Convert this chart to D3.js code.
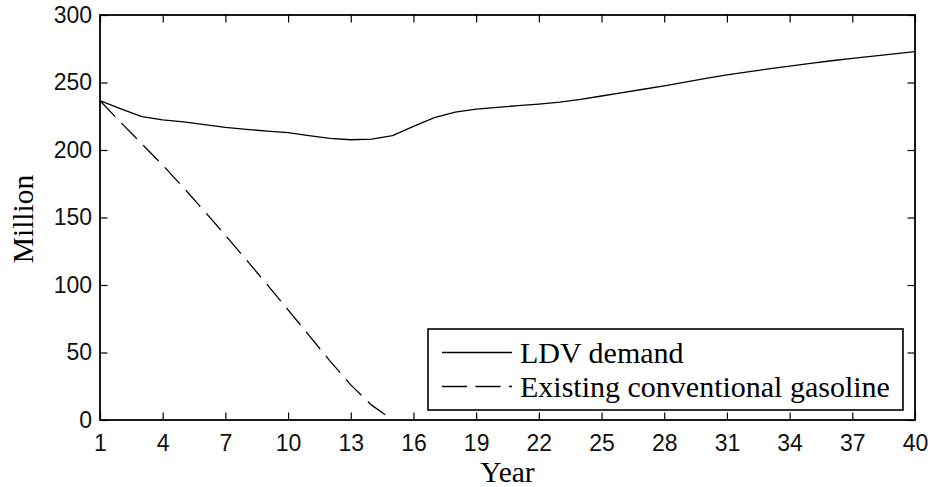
<!DOCTYPE html>
<html>
<head>
<meta charset="utf-8">
<script src="https://cdn.jsdelivr.net/npm/d3@7"></script>
<style>
  html, body { margin: 0; padding: 0; background: #fff; }
  svg { display: block; }
</style>
</head>
<body>
<svg id="chart" width="931" height="487"></svg>
<script>
// ---- data ----
const years = d3.range(1, 41);
const ldvDemand = [236.5, 230.5, 224.7, 222.3, 220.8, 218.8, 216.8, 215.3, 214.0, 212.8,
                   210.6, 208.6, 207.6, 208.0, 210.6, 217.5, 224.0, 228.0, 230.3, 231.6,
                   232.8, 234.0, 235.5, 237.5, 240.0, 242.5, 245.0, 247.5, 250.3, 253.0,
                   255.6, 257.9, 260.1, 262.2, 264.2, 266.1, 267.9, 269.6, 271.2, 272.8];
const gasYears = d3.range(1, 16);
const existingGasoline = [236.5, 220.3, 204.6, 188.8, 172.0, 154.6, 136.8, 118.7, 100.3, 81.6,
                          62.7, 43.8, 26.0, 11.0, 0.0];
const xTicks = [1, 4, 7, 10, 13, 16, 19, 22, 25, 28, 31, 34, 37, 40];
const yTicks = [0, 50, 100, 150, 200, 250, 300];
const seriesNames = ["LDV demand", "Existing conventional gasoline"];
const xLabel = "Year", yLabel = "Million";

// ---- layout ----
const L = 100, R = 915, T = 15, B = 420;
const svg = d3.select("#chart");
const x = d3.scaleLinear().domain([1, 40]).range([L, R]);
const y = d3.scaleLinear().domain([0, 300]).range([B, T]);
const serif = "'Liberation Serif', 'Times New Roman', serif";
const sans = "'Liberation Sans', Arial, Helvetica, sans-serif";

// lines
const line = d3.line().x(d => x(d[0])).y(d => y(d[1]));
svg.append("path")
  .datum(years.map((yr, i) => [yr, ldvDemand[i]]))
  .attr("d", line).attr("fill", "none").attr("stroke", "#000").attr("stroke-width", 1.3);
svg.append("path")
  .datum(gasYears.map((yr, i) => [yr, existingGasoline[i]]))
  .attr("d", line).attr("fill", "none").attr("stroke", "#000").attr("stroke-width", 1.3)
  .attr("stroke-dasharray", "22,9");

// axes
function styleAxis(g) {
  g.select(".domain").remove();
  g.selectAll(".tick line").attr("stroke", "#000").attr("stroke-width", 1.2);
  g.selectAll(".tick text").attr("fill", "#111").style("font-family", sans).style("font-size", "23px");
}
svg.append("g").attr("transform", `translate(0,${B})`)
  .call(d3.axisBottom(x).tickValues(xTicks).tickSize(-7.5).tickSizeOuter(0).tickPadding(14.5).tickFormat(d3.format("d")))
  .call(styleAxis);
svg.append("g").attr("transform", `translate(0,${T})`)
  .call(d3.axisTop(x).tickValues(xTicks).tickSize(-7.5).tickSizeOuter(0).tickFormat(""))
  .call(styleAxis);
svg.append("g").attr("transform", `translate(${L},0)`)
  .call(d3.axisLeft(y).tickValues(yTicks).tickSize(-7.5).tickSizeOuter(0).tickPadding(8).tickFormat(d3.format("d")))
  .call(styleAxis);
svg.append("g").attr("transform", `translate(${R},0)`)
  .call(d3.axisRight(y).tickValues(yTicks).tickSize(-7.5).tickSizeOuter(0).tickFormat(""))
  .call(styleAxis);

// frame
svg.append("rect").attr("x", L).attr("y", T).attr("width", R - L).attr("height", B - T)
  .attr("fill", "none").attr("stroke", "#000").attr("stroke-width", 1.8);

// axis labels
svg.append("text").attr("x", (L + R) / 2).attr("y", 482).attr("text-anchor", "middle")
  .style("font-family", serif).style("font-size", "29.5px").text(xLabel);
svg.append("text").attr("transform", "translate(33,219) rotate(-90)").attr("text-anchor", "middle")
  .style("font-family", serif).style("font-size", "29.5px").text(yLabel);

// legend
const lg = svg.append("g");
lg.append("rect").attr("x", 428).attr("y", 329).attr("width", 475).attr("height", 81)
  .attr("fill", "#fff").attr("stroke", "#000").attr("stroke-width", 1.6);
const rows = [352.5, 386.5];
seriesNames.forEach((name, i) => {
  lg.append("line").attr("x1", 442).attr("x2", 512).attr("y1", rows[i]).attr("y2", rows[i])
    .attr("stroke", "#000").attr("stroke-width", 1.3)
    .attr("stroke-dasharray", i === 1 ? "25,8.5" : null);
  lg.append("text").attr("x", 520).attr("y", rows[i] + 10.5)
    .style("font-family", serif).style("font-size", "30px").attr("fill", "#000").text(name);
});
</script>
</body>
</html>
